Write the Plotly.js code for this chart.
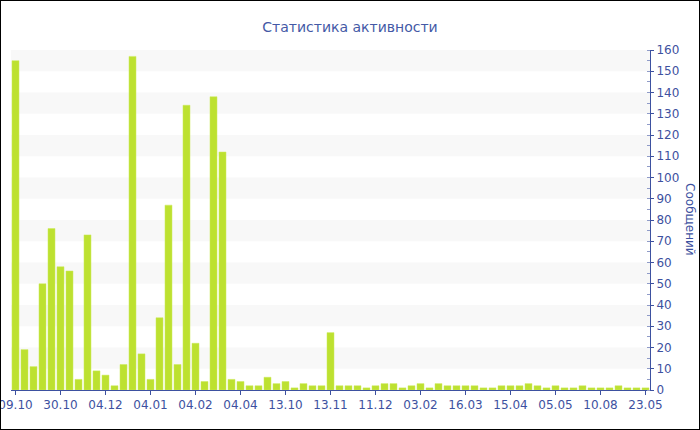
<!DOCTYPE html>
<html>
<head>
<meta charset="utf-8">
<script src="https://cdn.plot.ly/plotly-3.0.1.min.js"></script>
<style>
  html, body { margin: 0; padding: 0; background: #fff; }
  #chart { width: 698px; height: 428px; border: 1px solid #000; }
</style>
</head>
<body>
<div id="chart"></div>
<script>
// Values per period (one bar each)
const messages = [
  155, 19, 11, 50, 76, 58, 56, 5, 73, 9,
  7, 2, 12, 157, 17, 5, 34, 87, 12, 134,
  22, 4, 138, 112, 5, 4, 2, 2, 6, 3,
  4, 1, 3, 2, 2, 27, 2, 2, 2, 1,
  2, 3, 3, 1, 2, 3, 1, 3, 2, 2,
  2, 2, 1, 1, 2, 2, 2, 3, 2, 1,
  2, 1, 1, 2, 1, 1, 1, 2, 1, 1,
  1
];
// Labels shown under every fifth bar
const tickLabels = ['09.10', '30.10', '04.12', '04.01', '04.02', '04.04', '13.10', '13.11',
                    '11.12', '03.02', '16.03', '15.04', '05.05', '10.08', '23.05'];
const labelStep = 5;
const yTicks = [0, 10, 20, 30, 40, 50, 60, 70, 80, 90, 100, 110, 120, 130, 140, 150, 160];

const titleText = 'Статистика активности';
const yTitleText = 'Сообщений';

const blue = '#3d51a0';
const xIdx = messages.map((_, i) => i);
const tickVals = tickLabels.map((_, i) => i * labelStep);

// alternating background bands
const bands = [];
for (let i = 1; i < yTicks.length - 1; i += 2) {
  bands.push({
    type: 'rect', xref: 'paper', yref: 'y', x0: 0, x1: 1,
    y0: yTicks[i], y1: yTicks[i + 1],
    fillcolor: '#f8f8f8', line: { width: 0 }, layer: 'below'
  });
}

const trace = {
  type: 'bar',
  x: xIdx,
  y: messages,
  marker: { color: '#bde130', line: { color: '#cdea5c', width: 0.5 } },
  hoverinfo: 'y'
};

const layout = {
  width: 698, height: 428,
  margin: { l: 10, r: 49, t: 49, b: 39, pad: 0 },
  paper_bgcolor: '#fff', plot_bgcolor: 'rgba(0,0,0,0)',
  font: { family: 'DejaVu Sans, Verdana, sans-serif', size: 11, color: blue },
  title: { text: titleText, x: 0.5, xref: 'container', y: 0.94, yref: 'container',
           yanchor: 'middle', font: { size: 14, color: '#4459a6' } },
  bargap: 0.22,
  showlegend: false,
  xaxis: {
    type: 'linear', range: [-0.5, messages.length - 0.5],
    tickmode: 'array', tickvals: tickVals, ticktext: tickLabels,
    ticks: 'outside', ticklen: 4, tickcolor: blue, tickwidth: 1,
    ticklabeloverflow: 'allow',
    showline: true, linecolor: blue, linewidth: 1,
    showgrid: false, zeroline: false, fixedrange: true,
    tickfont: { size: 12, color: blue }
  },
  yaxis: {
    side: 'right', range: [0, 160],
    tickmode: 'array', tickvals: yTicks,
    ticks: 'outside', ticklen: 3, tickcolor: blue,
    minor: { tickmode: 'linear', tick0: 0, dtick: 5, ticks: 'inside', ticklen: 3, tickcolor: '#8f9bc8', showgrid: false },
    showline: true, linecolor: blue, linewidth: 1,
    showgrid: false, zeroline: false, fixedrange: true,
    tickfont: { size: 12, color: blue }
  },
  shapes: bands,
  annotations: [{
    text: yTitleText, xref: 'paper', yref: 'paper', x: 1.0625, y: 0.5,
    textangle: 90, showarrow: false, xanchor: 'center', yanchor: 'middle',
    font: { size: 12, color: blue }
  }]
};

Plotly.newPlot('chart', [trace], layout, { displayModeBar: false, staticPlot: true });
</script>
</body>
</html>
